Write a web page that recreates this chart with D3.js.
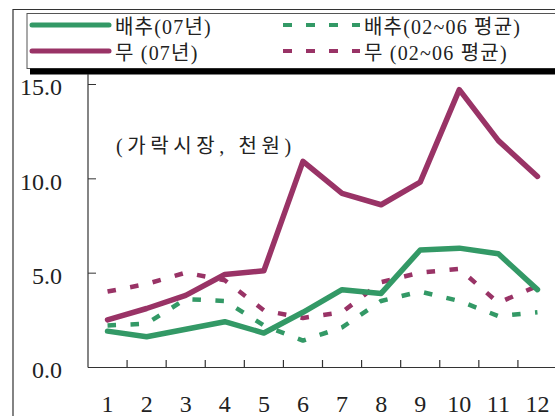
<!DOCTYPE html>
<html>
<head>
<meta charset="utf-8">
<script src="https://cdn.jsdelivr.net/npm/d3@7"></script>
<style>
  body { margin: 0; background: #fff; }
  svg text { font-family: "Liberation Serif", "DejaVu Serif", "Noto Sans CJK KR", serif; fill: #222; }
</style>
</head>
<body>
<div id="roott"></div>
<script>
// DIMENSIONS
let widthh = 555, heightt = 416;

// data (천원, 가락시장)
let months = ["1","2","3","4","5","6","7","8","9","10","11","12"];
let cabbage07  = [1.9, 1.6, 2.0, 2.4, 1.8, 2.9, 4.1, 3.9, 6.2, 6.3, 6.0, 4.1];
let radish07   = [2.5, 3.1, 3.8, 4.9, 5.1, 10.9, 9.2, 8.6, 9.8, 14.7, 12.0, 10.1];
let cabbageAvg = [2.2, 2.3, 3.6, 3.5, 2.2, 1.4, 2.1, 3.5, 4.0, 3.5, 2.7, 2.9];
let radishAvg  = [4.0, 4.4, 5.0, 4.6, 3.0, 2.6, 2.9, 4.5, 5.0, 5.2, 3.4, 4.3];
let yTicks = [0, 5, 10, 15];

let green = "#339966", purple = "#993366";

let series = [
  { name: "배추(07년)", values: cabbage07, color: green, dash: null },
  { name: "무 (07년)", values: radish07, color: purple, dash: null },
  { name: "배추(02~06 평균)", values: cabbageAvg, color: green, dash: "8.5,14.5" },
  { name: "무 (02~06 평균)", values: radishAvg, color: purple, dash: "8.5,14.5" }
];

let svg = d3.select("#roott").append("svg")
  .attr("width", widthh).attr("height", heightt);

// frame
svg.append("path").attr("d", "M13,416 V9.5 H560")
  .attr("fill", "none").attr("stroke", "#333").attr("stroke-width", 1.2);

// legend box
svg.append("rect").attr("x", 27).attr("y", 13.5).attr("width", 540).attr("height", 55)
  .attr("fill", "none").attr("stroke", "#555").attr("stroke-width", 1);

// thick bar under legend
svg.append("rect").attr("x", 30).attr("y", 68.5).attr("width", 540).attr("height", 6).attr("fill", "#000");

// scales
let xBand = d3.scaleBand().domain(months).range([88, 557]);
let x = d => xBand(d) + xBand.bandwidth() / 2;
let y = d3.scaleLinear().domain([0, 15]).range([367, 84]);

// y axis
let yAxis = svg.append("g").attr("transform", "translate(88,0)")
  .call(d3.axisLeft(y).tickValues(yTicks).tickSize(-8).tickPadding(26).tickFormat(d3.format(".1f")));
yAxis.select(".domain").remove();
yAxis.selectAll(".tick line").attr("stroke", "#333");
yAxis.selectAll(".tick text").style("font-size", "24px").attr("dy", "0.45em").attr("fill", "#222");
svg.append("line").attr("x1", 88).attr("x2", 88).attr("y1", 74).attr("y2", 367.5)
  .attr("stroke", "#333").attr("stroke-width", 1.2);

// x axis
let xAxis = svg.append("g").attr("transform", "translate(0,367)")
  .call(d3.axisBottom(xBand).tickSize(0).tickPadding(28));
xAxis.select(".domain").remove();
xAxis.selectAll(".tick text").style("font-size", "24px").attr("fill", "#222");
svg.append("line").attr("x1", 88).attr("x2", 560).attr("y1", 367.5).attr("y2", 367.5)
  .attr("stroke", "#333").attr("stroke-width", 1.2);
svg.selectAll(".xtick").data(months.slice(1)).enter().append("line")
  .attr("class", "xtick")
  .attr("x1", d => xBand(d)).attr("x2", d => xBand(d))
  .attr("y1", 360).attr("y2", 367)
  .attr("stroke", "#333").attr("stroke-width", 1.2);

// lines
let line = d3.line().x((d, i) => x(months[i])).y(d => y(d));
[series[3], series[2], series[0], series[1]].forEach(s => {
  svg.append("path").datum(s.values)
    .attr("d", line)
    .attr("fill", "none")
    .attr("stroke", s.color)
    .attr("stroke-width", s.dash ? 4.5 : 5.5)
    .attr("stroke-linejoin", "round")
    .attr("stroke-linecap", s.dash ? "butt" : "round")
    .attr("stroke-dasharray", s.dash);
});

// annotation
svg.append("text").attr("x", 116).attr("y", 153)
  .style("font-size", "20px").style("letter-spacing", "4.6px").text("(가락시장, 천원)");

// legend
let legPos = [
  { x1: 32, x2: 109, tx: 115, y: 25 },
  { x1: 32, x2: 109, tx: 115, y: 51 },
  { x1: 283, x2: 360, tx: 364, y: 25 },
  { x1: 283, x2: 360, tx: 364, y: 51 }
];
series.forEach((s, i) => {
  let p = legPos[i];
  svg.append("line").attr("x1", p.x1).attr("x2", p.x2).attr("y1", p.y).attr("y2", p.y)
    .attr("stroke", s.color)
    .attr("stroke-width", s.dash ? 4 : 5)
    .attr("stroke-linecap", s.dash ? "butt" : "round")
    .attr("stroke-dasharray", s.dash ? "9,14" : null);
  svg.append("text").attr("x", p.tx).attr("y", p.y + 9)
    .style("font-size", "20px").style("letter-spacing", "1.2px").text(s.name);
});
</script>
</body>
</html>
